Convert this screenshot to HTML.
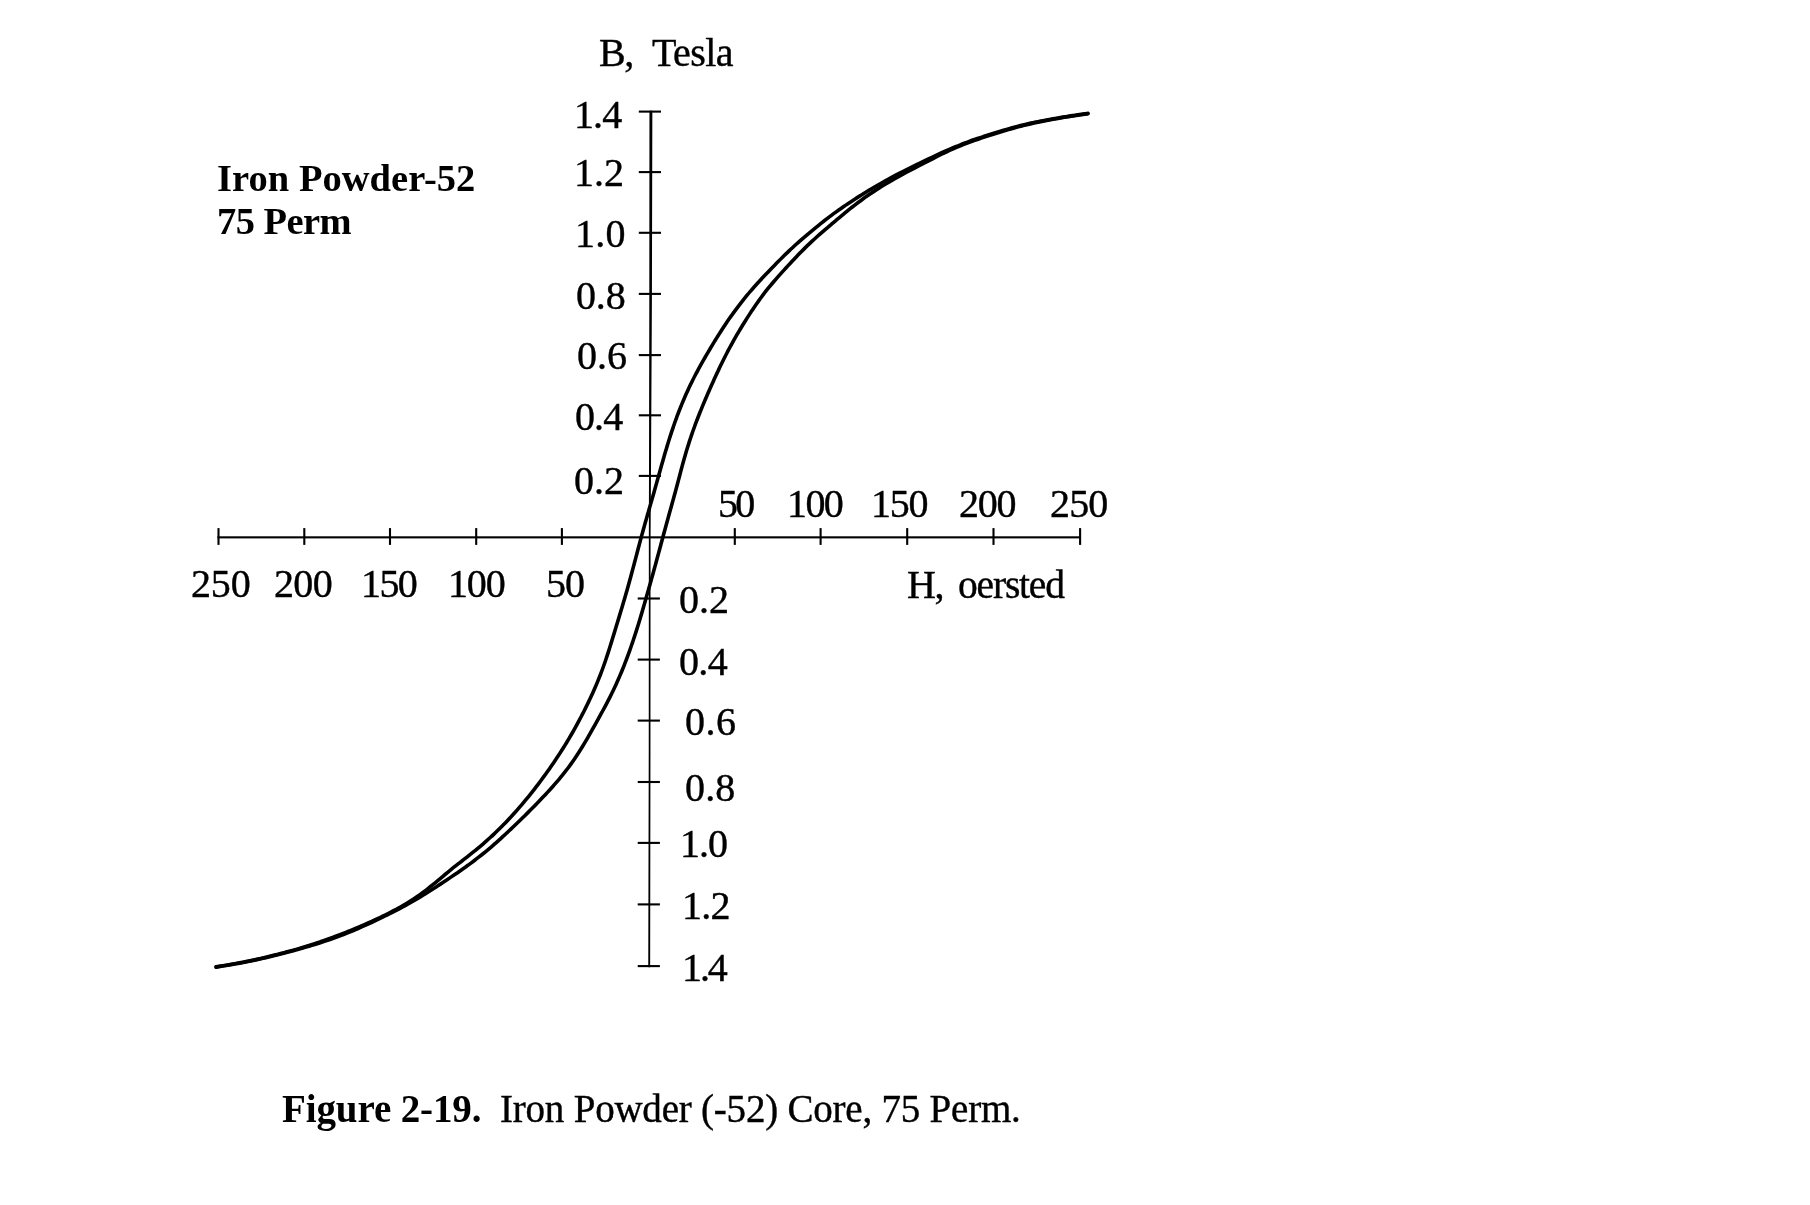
<!DOCTYPE html>
<html><head><meta charset="utf-8"><title>Figure 2-19</title>
<style>
html,body{margin:0;padding:0;background:#fff;width:1810px;height:1205px;overflow:hidden;}
svg{display:block;will-change:transform;}
text{font-family:"Liberation Serif",serif;fill:#000;}
</style></head><body>
<svg width="1810" height="1205" viewBox="0 0 1810 1205">
<rect width="1810" height="1205" fill="#fff"/>
<polygon points="649.45,110.80 649.30,300.00 649.00,470.00 648.85,540.00 648.75,750.00 648.25,967.20 650.15,967.20 650.45,750.00 650.55,540.00 651.00,470.00 651.90,300.00 652.35,110.80" fill="#000"/>
<rect class="ax" x="217.4" y="536.3" width="863.6" height="2.1" fill="#000"/>
<line x1="638.8" y1="111.6" x2="661.0" y2="111.6" stroke="#000" stroke-width="2.1"/>
<line x1="638.8" y1="172.1" x2="661.0" y2="172.1" stroke="#000" stroke-width="2.1"/>
<line x1="638.8" y1="232.8" x2="661.0" y2="232.8" stroke="#000" stroke-width="2.1"/>
<line x1="638.8" y1="293.9" x2="661.0" y2="293.9" stroke="#000" stroke-width="2.1"/>
<line x1="638.8" y1="355.1" x2="661.0" y2="355.1" stroke="#000" stroke-width="2.1"/>
<line x1="638.8" y1="415.3" x2="661.0" y2="415.3" stroke="#000" stroke-width="2.1"/>
<line x1="638.8" y1="475.9" x2="661.0" y2="475.9" stroke="#000" stroke-width="2.1"/>
<line x1="637.7" y1="598.5" x2="659.9" y2="598.5" stroke="#000" stroke-width="2.1"/>
<line x1="637.7" y1="659.6" x2="659.9" y2="659.6" stroke="#000" stroke-width="2.1"/>
<line x1="637.7" y1="720.6" x2="659.9" y2="720.6" stroke="#000" stroke-width="2.1"/>
<line x1="637.7" y1="782.0" x2="659.9" y2="782.0" stroke="#000" stroke-width="2.1"/>
<line x1="637.7" y1="842.9" x2="659.9" y2="842.9" stroke="#000" stroke-width="2.1"/>
<line x1="637.7" y1="904.4" x2="659.9" y2="904.4" stroke="#000" stroke-width="2.1"/>
<line x1="637.7" y1="966.1" x2="659.9" y2="966.1" stroke="#000" stroke-width="2.1"/>
<line x1="218.5" y1="528.1" x2="218.5" y2="544.9" stroke="#000" stroke-width="2.1"/>
<line x1="304.3" y1="528.1" x2="304.3" y2="544.9" stroke="#000" stroke-width="2.1"/>
<line x1="390.0" y1="528.1" x2="390.0" y2="544.9" stroke="#000" stroke-width="2.1"/>
<line x1="476.2" y1="528.1" x2="476.2" y2="544.9" stroke="#000" stroke-width="2.1"/>
<line x1="561.9" y1="528.1" x2="561.9" y2="544.9" stroke="#000" stroke-width="2.1"/>
<line x1="734.8" y1="528.1" x2="734.8" y2="544.9" stroke="#000" stroke-width="2.1"/>
<line x1="820.6" y1="528.1" x2="820.6" y2="544.9" stroke="#000" stroke-width="2.1"/>
<line x1="907.2" y1="528.1" x2="907.2" y2="544.9" stroke="#000" stroke-width="2.1"/>
<line x1="993.5" y1="528.1" x2="993.5" y2="544.9" stroke="#000" stroke-width="2.1"/>
<line x1="1080.1" y1="528.1" x2="1080.1" y2="544.9" stroke="#000" stroke-width="2.1"/>
<path d="M1087.95 113.43 C1087.11 113.55 1084.60 113.90 1082.93 114.14 C1081.25 114.38 1079.58 114.62 1077.91 114.86 C1076.24 115.10 1074.56 115.35 1072.89 115.60 C1071.22 115.85 1069.55 116.10 1067.88 116.36 C1066.21 116.62 1064.54 116.88 1062.87 117.15 C1061.20 117.41 1059.53 117.69 1057.86 117.97 C1056.20 118.25 1054.53 118.53 1052.87 118.82 C1051.20 119.11 1049.54 119.41 1047.87 119.72 C1046.21 120.02 1044.55 120.34 1042.89 120.66 C1041.23 120.98 1039.58 121.31 1037.92 121.65 C1036.27 121.98 1034.61 122.33 1032.96 122.69 C1031.31 123.05 1029.67 123.41 1028.02 123.79 C1026.37 124.17 1024.73 124.56 1023.09 124.96 C1021.45 125.36 1019.81 125.78 1018.18 126.20 C1016.54 126.62 1014.91 127.06 1013.28 127.50 C1011.65 127.95 1010.03 128.41 1008.40 128.87 C1006.78 129.33 1005.16 129.81 1003.54 130.29 C1001.92 130.77 1000.30 131.26 998.68 131.75 C997.07 132.24 995.45 132.74 993.84 133.25 C992.22 133.75 990.61 134.26 989.00 134.77 C987.39 135.28 985.78 135.80 984.18 136.33 C982.57 136.85 980.96 137.38 979.36 137.92 C977.76 138.45 976.16 139.00 974.57 139.55 C972.97 140.10 971.38 140.66 969.79 141.24 C968.20 141.81 966.62 142.39 965.04 142.98 C963.46 143.58 961.88 144.18 960.32 144.80 C958.75 145.41 957.18 146.04 955.62 146.68 C954.06 147.32 952.51 147.97 950.96 148.64 C949.41 149.30 947.86 149.98 946.32 150.66 C944.78 151.35 943.25 152.05 941.72 152.75 C940.19 153.46 938.66 154.17 937.13 154.89 C935.60 155.61 934.08 156.33 932.56 157.06 C931.03 157.78 929.51 158.51 927.99 159.24 C926.46 159.97 924.94 160.70 923.42 161.43 C921.90 162.17 920.38 162.90 918.86 163.63 C917.34 164.37 915.82 165.10 914.30 165.84 C912.78 166.58 911.26 167.33 909.75 168.07 C908.24 168.82 906.72 169.58 905.22 170.34 C903.71 171.09 902.20 171.86 900.70 172.63 C899.20 173.40 897.70 174.18 896.20 174.96 C894.71 175.75 893.21 176.54 891.73 177.34 C890.24 178.13 888.75 178.94 887.27 179.75 C885.79 180.56 884.31 181.38 882.84 182.20 C881.37 183.03 879.90 183.86 878.44 184.71 C876.97 185.55 875.51 186.40 874.06 187.26 C872.60 188.12 871.15 188.98 869.71 189.86 C868.26 190.73 866.82 191.61 865.38 192.49 C863.94 193.38 862.51 194.27 861.07 195.17 C859.64 196.07 858.22 196.98 856.79 197.89 C855.37 198.80 853.95 199.72 852.54 200.64 C851.13 201.57 849.72 202.50 848.31 203.44 C846.91 204.38 845.51 205.33 844.12 206.29 C842.73 207.24 841.34 208.21 839.96 209.18 C838.58 210.15 837.21 211.13 835.84 212.12 C834.47 213.12 833.11 214.11 831.76 215.12 C830.40 216.13 829.05 217.15 827.71 218.18 C826.37 219.20 825.04 220.24 823.71 221.28 C822.38 222.32 821.05 223.37 819.73 224.42 C818.41 225.47 817.10 226.53 815.79 227.60 C814.48 228.67 813.17 229.74 811.87 230.81 C810.57 231.89 809.27 232.97 807.98 234.06 C806.69 235.15 805.40 236.24 804.12 237.34 C802.84 238.45 801.56 239.55 800.29 240.67 C799.03 241.78 797.76 242.90 796.51 244.03 C795.25 245.16 794.01 246.30 792.77 247.45 C791.53 248.59 790.29 249.74 789.07 250.90 C787.84 252.06 786.62 253.23 785.41 254.40 C784.20 255.58 782.99 256.76 781.79 257.95 C780.59 259.13 779.40 260.33 778.22 261.53 C777.03 262.73 775.85 263.93 774.67 265.14 C773.50 266.35 772.33 267.57 771.16 268.78 C769.99 270.00 768.82 271.21 767.65 272.44 C766.49 273.66 765.33 274.88 764.17 276.11 C763.01 277.33 761.86 278.56 760.71 279.80 C759.56 281.03 758.42 282.27 757.28 283.52 C756.15 284.76 755.02 286.01 753.90 287.27 C752.78 288.53 751.67 289.80 750.57 291.07 C749.47 292.35 748.39 293.63 747.31 294.93 C746.24 296.22 745.17 297.53 744.12 298.84 C743.06 300.15 742.02 301.48 740.99 302.80 C739.96 304.13 738.94 305.47 737.92 306.82 C736.91 308.16 735.91 309.52 734.91 310.87 C733.91 312.23 732.92 313.59 731.94 314.96 C730.96 316.33 729.99 317.71 729.03 319.09 C728.07 320.48 727.11 321.87 726.17 323.27 C725.22 324.66 724.29 326.07 723.36 327.47 C722.43 328.88 721.52 330.30 720.61 331.72 C719.70 333.14 718.79 334.57 717.90 336.00 C717.00 337.43 716.11 338.87 715.23 340.31 C714.34 341.75 713.47 343.19 712.59 344.64 C711.72 346.08 710.84 347.53 709.98 348.99 C709.11 350.44 708.25 351.89 707.40 353.35 C706.54 354.81 705.69 356.27 704.85 357.74 C704.00 359.20 703.16 360.67 702.33 362.14 C701.50 363.61 700.68 365.09 699.86 366.57 C699.05 368.05 698.24 369.54 697.45 371.03 C696.65 372.52 695.86 374.01 695.08 375.51 C694.30 377.01 693.54 378.52 692.78 380.03 C692.02 381.54 691.28 383.06 690.54 384.58 C689.80 386.10 689.08 387.62 688.37 389.16 C687.65 390.69 686.95 392.22 686.26 393.77 C685.57 395.31 684.89 396.85 684.22 398.41 C683.55 399.96 682.89 401.51 682.25 403.07 C681.60 404.63 680.97 406.20 680.34 407.77 C679.72 409.34 679.10 410.91 678.50 412.49 C677.90 414.07 677.30 415.65 676.72 417.24 C676.14 418.83 675.56 420.42 675.00 422.01 C674.43 423.60 673.88 425.20 673.33 426.80 C672.78 428.40 672.25 430.00 671.72 431.60 C671.19 433.21 670.66 434.82 670.15 436.43 C669.63 438.04 669.13 439.65 668.63 441.27 C668.12 442.88 667.63 444.50 667.14 446.12 C666.65 447.73 666.17 449.36 665.69 450.98 C665.21 452.60 664.74 454.22 664.27 455.85 C663.80 457.47 663.33 459.10 662.87 460.72 C662.41 462.35 661.95 463.98 661.49 465.60 C661.03 467.23 660.57 468.86 660.11 470.49 C659.66 472.11 659.20 473.74 658.75 475.37 C658.29 477.00 657.84 478.63 657.38 480.25 C656.92 481.88 656.47 483.51 656.01 485.13 C655.55 486.76 655.09 488.39 654.63 490.01 C654.17 491.64 653.71 493.26 653.24 494.89 C652.78 496.51 652.32 498.14 651.85 499.76 C651.39 501.38 650.92 503.01 650.46 504.63 C649.99 506.26 649.52 507.88 649.06 509.50 C648.59 511.12 648.12 512.75 647.66 514.37 C647.19 515.99 646.72 517.61 646.26 519.24 C645.80 520.86 645.33 522.48 644.87 524.11 C644.41 525.73 643.95 527.35 643.50 528.98 C643.05 530.61 642.60 532.23 642.15 533.86 C641.70 535.49 641.26 537.12 640.82 538.75 C640.39 540.38 639.95 542.01 639.52 543.64 C639.08 545.27 638.65 546.91 638.22 548.54 C637.79 550.17 637.36 551.81 636.93 553.44 C636.50 555.07 636.07 556.71 635.64 558.34 C635.21 559.98 634.78 561.61 634.35 563.24 C633.92 564.88 633.48 566.51 633.05 568.14 C632.62 569.78 632.18 571.41 631.74 573.04 C631.30 574.67 630.86 576.31 630.42 577.94 C629.98 579.57 629.53 581.20 629.08 582.82 C628.63 584.45 628.18 586.08 627.72 587.71 C627.26 589.33 626.80 590.96 626.34 592.58 C625.87 594.21 625.40 595.83 624.93 597.45 C624.45 599.08 623.97 600.70 623.50 602.32 C623.02 603.94 622.53 605.56 622.05 607.18 C621.56 608.80 621.07 610.41 620.59 612.03 C620.10 613.65 619.61 615.27 619.12 616.89 C618.63 618.50 618.14 620.12 617.65 621.74 C617.16 623.36 616.67 624.98 616.18 626.59 C615.68 628.21 615.19 629.83 614.70 631.45 C614.21 633.07 613.72 634.68 613.23 636.30 C612.73 637.92 612.24 639.54 611.74 641.15 C611.24 642.77 610.74 644.38 610.24 645.99 C609.73 647.61 609.23 649.22 608.71 650.83 C608.20 652.44 607.68 654.05 607.15 655.65 C606.62 657.26 606.09 658.86 605.54 660.46 C605.00 662.06 604.45 663.65 603.88 665.24 C603.32 666.83 602.74 668.42 602.16 670.01 C601.57 671.59 600.98 673.17 600.37 674.74 C599.76 676.32 599.14 677.89 598.51 679.45 C597.88 681.02 597.23 682.58 596.58 684.14 C595.92 685.69 595.26 687.24 594.58 688.79 C593.90 690.34 593.21 691.88 592.52 693.42 C591.82 694.96 591.11 696.49 590.40 698.03 C589.68 699.56 588.96 701.08 588.22 702.61 C587.49 704.13 586.75 705.65 586.00 707.16 C585.25 708.68 584.49 710.19 583.73 711.70 C582.96 713.21 582.19 714.71 581.41 716.21 C580.63 717.71 579.84 719.20 579.04 720.70 C578.25 722.19 577.44 723.67 576.63 725.16 C575.82 726.64 575.00 728.12 574.17 729.59 C573.35 731.06 572.51 732.53 571.67 734.00 C570.82 735.46 569.97 736.92 569.11 738.38 C568.26 739.83 567.39 741.28 566.51 742.73 C565.64 744.17 564.75 745.61 563.86 747.04 C562.97 748.48 562.07 749.91 561.16 751.33 C560.25 752.75 559.33 754.17 558.40 755.58 C557.48 757.00 556.54 758.40 555.60 759.81 C554.66 761.21 553.71 762.61 552.75 764.00 C551.80 765.40 550.83 766.79 549.87 768.17 C548.90 769.56 547.92 770.94 546.94 772.31 C545.96 773.69 544.97 775.06 543.97 776.43 C542.98 777.79 541.98 779.15 540.97 780.51 C539.96 781.87 538.94 783.22 537.92 784.57 C536.90 785.91 535.87 787.26 534.84 788.59 C533.80 789.93 532.76 791.26 531.71 792.58 C530.65 793.91 529.60 795.23 528.53 796.54 C527.46 797.85 526.39 799.16 525.31 800.46 C524.23 801.76 523.14 803.05 522.05 804.34 C520.95 805.63 519.85 806.91 518.74 808.18 C517.63 809.46 516.51 810.73 515.38 811.99 C514.26 813.25 513.13 814.51 511.98 815.75 C510.84 817.00 509.69 818.24 508.54 819.47 C507.38 820.70 506.21 821.92 505.04 823.14 C503.86 824.35 502.68 825.56 501.49 826.76 C500.30 827.96 499.10 829.15 497.89 830.33 C496.68 831.51 495.46 832.68 494.23 833.84 C493.00 835.00 491.77 836.15 490.52 837.29 C489.27 838.43 488.02 839.56 486.76 840.68 C485.49 841.80 484.22 842.92 482.94 844.02 C481.66 845.12 480.37 846.21 479.07 847.30 C477.78 848.38 476.47 849.45 475.16 850.52 C473.85 851.59 472.54 852.64 471.21 853.70 C469.89 854.75 468.57 855.79 467.24 856.84 C465.91 857.88 464.58 858.92 463.24 859.95 C461.91 860.99 460.58 862.03 459.25 863.06 C457.92 864.10 456.59 865.14 455.27 866.19 C453.94 867.23 452.63 868.28 451.31 869.34 C450.00 870.40 448.70 871.46 447.40 872.53 C446.10 873.60 444.80 874.68 443.51 875.76 C442.22 876.84 440.94 877.93 439.66 879.01 C438.37 880.09 437.09 881.18 435.80 882.26 C434.50 883.33 433.21 884.41 431.91 885.47 C430.61 886.53 429.30 887.58 427.98 888.62 C426.66 889.65 425.33 890.68 423.99 891.68 C422.64 892.69 421.29 893.68 419.92 894.65 C418.55 895.63 417.17 896.58 415.78 897.52 C414.39 898.46 412.98 899.39 411.57 900.29 C410.15 901.20 408.72 902.09 407.29 902.97 C405.85 903.84 404.40 904.70 402.94 905.54 C401.48 906.39 400.01 907.22 398.54 908.04 C397.06 908.85 395.58 909.66 394.09 910.45 C392.60 911.24 391.10 912.02 389.59 912.79 C388.09 913.56 386.58 914.32 385.06 915.07 C383.55 915.82 382.02 916.56 380.50 917.29 C378.97 918.02 377.44 918.74 375.91 919.46 C374.38 920.17 372.84 920.88 371.30 921.58 C369.76 922.28 368.21 922.97 366.66 923.65 C365.12 924.33 363.56 925.01 362.01 925.68 C360.45 926.35 358.90 927.01 357.34 927.66 C355.78 928.32 354.21 928.96 352.65 929.60 C351.08 930.25 349.52 930.88 347.95 931.51 C346.38 932.14 344.81 932.76 343.23 933.38 C341.66 934.00 340.08 934.61 338.50 935.22 C336.93 935.82 335.35 936.42 333.76 937.01 C332.18 937.61 330.59 938.19 329.01 938.77 C327.42 939.34 325.83 939.91 324.23 940.47 C322.64 941.03 321.04 941.58 319.44 942.12 C317.84 942.66 316.24 943.19 314.63 943.72 C313.03 944.24 311.42 944.75 309.80 945.26 C308.19 945.76 306.58 946.26 304.96 946.75 C303.34 947.24 301.72 947.72 300.10 948.20 C298.48 948.68 296.86 949.15 295.23 949.61 C293.61 950.07 291.98 950.53 290.35 950.98 C288.72 951.43 287.09 951.87 285.45 952.31 C283.82 952.75 282.19 953.18 280.55 953.60 C278.91 954.03 277.28 954.45 275.64 954.86 C274.00 955.27 272.36 955.68 270.71 956.07 C269.07 956.47 267.43 956.87 265.78 957.25 C264.14 957.64 262.49 958.02 260.84 958.40 C259.19 958.77 257.55 959.14 255.90 959.50 C254.25 959.86 252.59 960.21 250.94 960.56 C249.29 960.90 247.63 961.24 245.98 961.57 C244.32 961.90 242.67 962.23 241.01 962.54 C239.35 962.86 237.70 963.17 236.04 963.47 C234.38 963.77 232.72 964.06 231.06 964.35 C229.40 964.64 227.74 964.92 226.07 965.19 C224.41 965.47 222.75 965.73 221.09 966.00 C219.42 966.26 216.93 966.66 216.10 966.79" fill="none" stroke="#000" stroke-width="3.6" stroke-linecap="round" stroke-linejoin="round"/>
<path d="M216.10 967.10 C216.93 966.97 219.42 966.58 221.08 966.32 C222.75 966.06 224.41 965.79 226.07 965.52 C227.73 965.25 229.39 964.98 231.05 964.69 C232.71 964.41 234.37 964.12 236.03 963.82 C237.69 963.52 239.34 963.22 241.00 962.90 C242.66 962.59 244.31 962.27 245.97 961.94 C247.62 961.61 249.28 961.28 250.93 960.93 C252.58 960.59 254.23 960.24 255.88 959.88 C257.53 959.53 259.18 959.16 260.83 958.79 C262.48 958.42 264.12 958.04 265.77 957.66 C267.42 957.27 269.06 956.88 270.70 956.49 C272.35 956.09 273.99 955.69 275.63 955.29 C277.27 954.88 278.91 954.47 280.55 954.05 C282.19 953.63 283.82 953.20 285.46 952.77 C287.09 952.34 288.73 951.91 290.36 951.47 C291.99 951.03 293.62 950.58 295.25 950.13 C296.88 949.67 298.51 949.22 300.14 948.75 C301.76 948.29 303.39 947.82 305.01 947.35 C306.63 946.88 308.25 946.40 309.87 945.91 C311.49 945.43 313.11 944.93 314.72 944.43 C316.34 943.94 317.95 943.43 319.56 942.92 C321.17 942.40 322.78 941.88 324.38 941.35 C325.99 940.82 327.59 940.28 329.18 939.74 C330.78 939.19 332.38 938.63 333.96 938.06 C335.55 937.49 337.14 936.92 338.72 936.33 C340.30 935.74 341.88 935.14 343.45 934.52 C345.03 933.91 346.60 933.29 348.16 932.66 C349.73 932.02 351.29 931.38 352.84 930.72 C354.40 930.07 355.95 929.41 357.50 928.74 C359.05 928.06 360.60 927.39 362.15 926.70 C363.69 926.01 365.23 925.32 366.77 924.62 C368.31 923.92 369.85 923.22 371.38 922.51 C372.91 921.80 374.44 921.08 375.97 920.36 C377.50 919.64 379.03 918.91 380.55 918.18 C382.07 917.44 383.60 916.71 385.11 915.96 C386.63 915.22 388.15 914.47 389.66 913.71 C391.17 912.95 392.68 912.19 394.18 911.41 C395.68 910.64 397.18 909.87 398.68 909.08 C400.17 908.29 401.66 907.50 403.15 906.69 C404.64 905.89 406.12 905.08 407.60 904.26 C409.07 903.44 410.55 902.61 412.01 901.77 C413.48 900.94 414.94 900.09 416.40 899.24 C417.85 898.38 419.30 897.52 420.75 896.64 C422.20 895.77 423.64 894.89 425.07 894.00 C426.51 893.11 427.94 892.21 429.37 891.31 C430.79 890.40 432.22 889.49 433.64 888.57 C435.05 887.66 436.47 886.73 437.88 885.81 C439.30 884.88 440.71 883.95 442.12 883.01 C443.52 882.08 444.93 881.14 446.34 880.20 C447.74 879.26 449.14 878.32 450.55 877.37 C451.95 876.42 453.35 875.48 454.74 874.52 C456.14 873.57 457.54 872.62 458.93 871.65 C460.31 870.69 461.70 869.73 463.08 868.75 C464.46 867.78 465.84 866.80 467.21 865.81 C468.58 864.82 469.95 863.83 471.30 862.82 C472.66 861.82 474.01 860.80 475.35 859.78 C476.70 858.76 478.03 857.72 479.36 856.68 C480.69 855.64 482.01 854.58 483.32 853.52 C484.63 852.46 485.94 851.38 487.24 850.30 C488.53 849.22 489.82 848.13 491.11 847.03 C492.39 845.93 493.67 844.83 494.94 843.71 C496.21 842.60 497.47 841.48 498.73 840.35 C499.99 839.22 501.24 838.09 502.49 836.95 C503.74 835.81 504.98 834.66 506.22 833.51 C507.46 832.36 508.69 831.20 509.92 830.04 C511.15 828.88 512.38 827.72 513.60 826.55 C514.82 825.38 516.04 824.21 517.26 823.03 C518.47 821.85 519.69 820.68 520.90 819.49 C522.11 818.31 523.31 817.13 524.52 815.94 C525.72 814.75 526.92 813.56 528.12 812.37 C529.32 811.17 530.51 809.97 531.71 808.77 C532.90 807.57 534.08 806.37 535.26 805.16 C536.45 803.95 537.63 802.74 538.80 801.52 C539.97 800.30 541.14 799.08 542.30 797.86 C543.47 796.63 544.63 795.40 545.78 794.17 C546.93 792.93 548.07 791.69 549.21 790.44 C550.35 789.20 551.48 787.94 552.60 786.68 C553.72 785.42 554.83 784.16 555.93 782.88 C557.04 781.61 558.13 780.33 559.22 779.04 C560.30 777.75 561.37 776.46 562.43 775.15 C563.49 773.85 564.54 772.53 565.58 771.21 C566.61 769.88 567.63 768.55 568.63 767.20 C569.63 765.85 570.62 764.49 571.60 763.12 C572.57 761.75 573.53 760.37 574.48 758.98 C575.43 757.60 576.36 756.20 577.28 754.79 C578.20 753.38 579.11 751.96 580.01 750.54 C580.90 749.11 581.79 747.68 582.66 746.24 C583.54 744.80 584.40 743.35 585.26 741.90 C586.12 740.45 586.97 738.99 587.81 737.53 C588.66 736.07 589.49 734.60 590.33 733.13 C591.16 731.67 591.99 730.19 592.82 728.72 C593.65 727.25 594.47 725.78 595.29 724.30 C596.11 722.83 596.93 721.35 597.75 719.87 C598.57 718.40 599.38 716.92 600.20 715.44 C601.01 713.96 601.82 712.48 602.63 711.00 C603.43 709.52 604.24 708.04 605.03 706.55 C605.83 705.07 606.62 703.58 607.40 702.08 C608.17 700.59 608.95 699.09 609.71 697.59 C610.47 696.09 611.22 694.58 611.96 693.06 C612.70 691.55 613.43 690.03 614.15 688.51 C614.87 686.98 615.58 685.45 616.28 683.92 C616.98 682.39 617.66 680.85 618.34 679.30 C619.02 677.76 619.69 676.21 620.34 674.66 C621.00 673.10 621.65 671.55 622.28 669.98 C622.92 668.42 623.55 666.85 624.16 665.28 C624.78 663.71 625.39 662.14 625.99 660.56 C626.59 658.98 627.18 657.40 627.77 655.81 C628.35 654.23 628.93 652.64 629.50 651.05 C630.07 649.46 630.63 647.87 631.19 646.27 C631.74 644.68 632.29 643.08 632.83 641.48 C633.38 639.88 633.91 638.27 634.44 636.67 C634.97 635.06 635.49 633.45 636.00 631.84 C636.52 630.24 637.03 628.62 637.53 627.01 C638.04 625.40 638.53 623.78 639.03 622.17 C639.52 620.55 640.01 618.93 640.50 617.31 C640.98 615.69 641.46 614.07 641.94 612.45 C642.41 610.83 642.89 609.21 643.36 607.59 C643.83 605.96 644.29 604.34 644.76 602.72 C645.23 601.09 645.69 599.47 646.15 597.84 C646.62 596.22 647.08 594.59 647.54 592.97 C648.01 591.34 648.47 589.72 648.93 588.09 C649.39 586.46 649.85 584.84 650.31 583.21 C650.76 581.58 651.22 579.96 651.68 578.33 C652.13 576.70 652.59 575.07 653.04 573.45 C653.49 571.82 653.94 570.19 654.39 568.56 C654.84 566.93 655.28 565.30 655.73 563.67 C656.17 562.04 656.62 560.41 657.06 558.78 C657.50 557.15 657.94 555.51 658.38 553.88 C658.82 552.25 659.26 550.62 659.70 548.99 C660.14 547.35 660.57 545.72 661.01 544.09 C661.45 542.46 661.89 540.83 662.33 539.20 C662.76 537.56 663.20 535.93 663.64 534.30 C664.09 532.67 664.53 531.04 664.97 529.41 C665.42 527.79 665.86 526.16 666.31 524.53 C666.76 522.90 667.21 521.27 667.66 519.65 C668.10 518.02 668.55 516.39 669.00 514.77 C669.45 513.14 669.90 511.52 670.35 509.89 C670.80 508.26 671.26 506.64 671.71 505.01 C672.16 503.39 672.61 501.76 673.06 500.14 C673.51 498.51 673.96 496.89 674.40 495.26 C674.85 493.64 675.30 492.01 675.74 490.38 C676.17 488.75 676.61 487.12 677.04 485.49 C677.48 483.86 677.90 482.23 678.33 480.60 C678.76 478.97 679.19 477.34 679.62 475.70 C680.04 474.07 680.47 472.44 680.90 470.81 C681.33 469.17 681.77 467.54 682.21 465.91 C682.65 464.28 683.09 462.65 683.55 461.03 C684.00 459.40 684.46 457.78 684.92 456.15 C685.39 454.53 685.86 452.91 686.35 451.29 C686.83 449.67 687.33 448.06 687.83 446.45 C688.33 444.83 688.84 443.22 689.36 441.62 C689.89 440.01 690.42 438.41 690.96 436.81 C691.50 435.21 692.05 433.61 692.61 432.02 C693.17 430.42 693.74 428.83 694.31 427.24 C694.89 425.66 695.48 424.07 696.07 422.49 C696.67 420.91 697.27 419.33 697.88 417.75 C698.49 416.18 699.11 414.60 699.73 413.03 C700.36 411.46 700.99 409.89 701.63 408.33 C702.26 406.76 702.91 405.20 703.56 403.64 C704.21 402.08 704.87 400.52 705.53 398.96 C706.19 397.41 706.86 395.85 707.53 394.30 C708.20 392.75 708.88 391.20 709.56 389.65 C710.24 388.10 710.93 386.56 711.62 385.01 C712.31 383.47 713.00 381.93 713.71 380.39 C714.41 378.85 715.11 377.31 715.82 375.78 C716.53 374.24 717.24 372.71 717.96 371.18 C718.69 369.65 719.41 368.13 720.14 366.60 C720.87 365.08 721.61 363.56 722.36 362.04 C723.10 360.52 723.85 359.01 724.61 357.50 C725.37 355.99 726.13 354.48 726.91 352.98 C727.68 351.48 728.47 349.98 729.26 348.49 C730.05 347.00 730.85 345.51 731.67 344.03 C732.48 342.55 733.30 341.07 734.13 339.60 C734.96 338.13 735.80 336.66 736.65 335.20 C737.50 333.74 738.36 332.28 739.22 330.83 C740.09 329.38 740.96 327.94 741.85 326.49 C742.73 325.05 743.62 323.62 744.51 322.18 C745.41 320.75 746.31 319.32 747.22 317.89 C748.12 316.47 749.04 315.05 749.96 313.63 C750.88 312.22 751.81 310.81 752.75 309.41 C753.69 308.00 754.63 306.61 755.59 305.22 C756.55 303.83 757.51 302.45 758.49 301.08 C759.47 299.70 760.46 298.34 761.46 296.99 C762.47 295.63 763.48 294.29 764.51 292.96 C765.54 291.63 766.59 290.30 767.64 288.99 C768.70 287.68 769.77 286.38 770.84 285.08 C771.92 283.79 773.01 282.51 774.11 281.23 C775.21 279.95 776.32 278.68 777.44 277.42 C778.55 276.16 779.67 274.90 780.80 273.64 C781.93 272.39 783.06 271.14 784.19 269.89 C785.33 268.64 786.47 267.40 787.61 266.15 C788.75 264.91 789.89 263.67 791.04 262.44 C792.18 261.20 793.34 259.97 794.49 258.74 C795.65 257.52 796.82 256.29 797.99 255.08 C799.16 253.87 800.34 252.66 801.52 251.46 C802.71 250.26 803.90 249.07 805.10 247.89 C806.30 246.71 807.51 245.54 808.73 244.37 C809.94 243.21 811.17 242.05 812.40 240.91 C813.63 239.76 814.87 238.62 816.12 237.49 C817.37 236.37 818.62 235.25 819.88 234.13 C821.14 233.02 822.41 231.92 823.68 230.82 C824.95 229.72 826.23 228.63 827.51 227.53 C828.79 226.44 830.07 225.35 831.36 224.27 C832.64 223.18 833.92 222.09 835.21 221.01 C836.50 219.93 837.79 218.84 839.08 217.76 C840.37 216.69 841.67 215.61 842.97 214.54 C844.27 213.46 845.57 212.39 846.88 211.33 C848.19 210.27 849.50 209.22 850.82 208.17 C852.14 207.12 853.47 206.08 854.80 205.05 C856.14 204.02 857.48 203.00 858.83 201.99 C860.18 200.98 861.53 199.98 862.90 198.99 C864.26 198.00 865.64 197.02 867.02 196.05 C868.40 195.08 869.78 194.12 871.18 193.17 C872.58 192.23 873.98 191.29 875.39 190.37 C876.81 189.45 878.23 188.54 879.66 187.64 C881.08 186.74 882.52 185.86 883.96 184.98 C885.41 184.11 886.86 183.25 888.31 182.39 C889.77 181.54 891.23 180.69 892.70 179.85 C894.16 179.02 895.64 178.19 897.11 177.37 C898.59 176.55 900.07 175.73 901.55 174.92 C903.04 174.12 904.53 173.31 906.02 172.52 C907.51 171.72 909.00 170.93 910.50 170.14 C911.99 169.36 913.49 168.58 914.99 167.80 C916.49 167.02 917.99 166.24 919.49 165.47 C920.99 164.69 922.49 163.92 924.00 163.14 C925.50 162.37 927.00 161.60 928.51 160.83 C930.01 160.06 931.51 159.29 933.02 158.53 C934.52 157.77 936.03 157.00 937.54 156.25 C939.05 155.50 940.56 154.75 942.07 154.01 C943.59 153.27 945.11 152.54 946.64 151.83 C948.16 151.11 949.69 150.40 951.23 149.71 C952.76 149.02 954.31 148.35 955.86 147.68 C957.40 147.02 958.96 146.37 960.52 145.73 C962.08 145.10 963.65 144.47 965.22 143.86 C966.79 143.25 968.37 142.66 969.95 142.07 C971.53 141.49 973.12 140.91 974.71 140.35 C976.30 139.79 977.90 139.23 979.49 138.69 C981.09 138.14 982.69 137.61 984.30 137.07 C985.90 136.54 987.51 136.02 989.12 135.50 C990.72 134.98 992.33 134.47 993.95 133.96 C995.56 133.45 997.17 132.95 998.78 132.45 C1000.40 131.95 1002.02 131.46 1003.63 130.97 C1005.25 130.49 1006.87 130.01 1008.49 129.54 C1010.12 129.07 1011.74 128.61 1013.37 128.16 C1015.00 127.71 1016.63 127.27 1018.26 126.84 C1019.89 126.41 1021.53 125.99 1023.17 125.58 C1024.81 125.18 1026.45 124.78 1028.09 124.40 C1029.74 124.01 1031.38 123.64 1033.03 123.28 C1034.68 122.91 1036.33 122.56 1037.99 122.22 C1039.64 121.87 1041.29 121.54 1042.95 121.21 C1044.61 120.88 1046.27 120.56 1047.93 120.24 C1049.59 119.93 1051.25 119.62 1052.91 119.32 C1054.57 119.01 1056.24 118.72 1057.90 118.43 C1059.57 118.14 1061.23 117.85 1062.90 117.57 C1064.57 117.29 1066.24 117.02 1067.90 116.75 C1069.57 116.48 1071.24 116.21 1072.91 115.95 C1074.58 115.69 1076.25 115.43 1077.92 115.17 C1079.59 114.92 1081.26 114.66 1082.93 114.41 C1084.61 114.16 1087.11 113.78 1087.95 113.65" fill="none" stroke="#000" stroke-width="3.6" stroke-linecap="round" stroke-linejoin="round"/>
<text x="599.00" y="65.90" font-size="40.0" stroke="#000" stroke-width="0.4" textLength="35.29" lengthAdjust="spacing">B,</text>
<text x="652.00" y="66.00" font-size="40.0" stroke="#000" stroke-width="0.4" textLength="81.63" lengthAdjust="spacing">Tesla</text>
<text x="574.00" y="128.00" font-size="40.0" stroke="#000" stroke-width="0.4" textLength="48.20" lengthAdjust="spacing">1.4</text>
<text x="574.00" y="186.00" font-size="40.0" stroke="#000" stroke-width="0.4" textLength="50.00" lengthAdjust="spacing">1.2</text>
<text x="575.00" y="247.00" font-size="40.0" stroke="#000" stroke-width="0.4" textLength="50.40" lengthAdjust="spacing">1.0</text>
<text x="576.00" y="309.00" font-size="40.0" stroke="#000" stroke-width="0.4" textLength="49.70" lengthAdjust="spacing">0.8</text>
<text x="577.00" y="369.00" font-size="40.0" stroke="#000" stroke-width="0.4">0.6</text>
<text x="575.00" y="430.00" font-size="40.0" stroke="#000" stroke-width="0.4" textLength="48.20" lengthAdjust="spacing">0.4</text>
<text x="574.00" y="494.00" font-size="40.0" stroke="#000" stroke-width="0.4" textLength="50.00" lengthAdjust="spacing">0.2</text>
<text x="718.00" y="517.00" font-size="40.0" stroke="#000" stroke-width="0.4" textLength="37.20" lengthAdjust="spacing">50</text>
<text x="787.00" y="517.00" font-size="40.0" stroke="#000" stroke-width="0.4" textLength="56.80" lengthAdjust="spacing">100</text>
<text x="871.00" y="517.00" font-size="40.0" stroke="#000" stroke-width="0.4" textLength="57.60" lengthAdjust="spacing">150</text>
<text x="959.00" y="517.00" font-size="40.0" stroke="#000" stroke-width="0.4" textLength="57.40" lengthAdjust="spacing">200</text>
<text x="1050.00" y="517.00" font-size="40.0" stroke="#000" stroke-width="0.4" textLength="58.30" lengthAdjust="spacing">250</text>
<text x="191.00" y="597.00" font-size="40.0" stroke="#000" stroke-width="0.4" textLength="59.70" lengthAdjust="spacing">250</text>
<text x="274.00" y="597.00" font-size="40.0" stroke="#000" stroke-width="0.4" textLength="58.70" lengthAdjust="spacing">200</text>
<text x="361.00" y="597.00" font-size="40.0" stroke="#000" stroke-width="0.4" textLength="56.80" lengthAdjust="spacing">150</text>
<text x="448.00" y="597.00" font-size="40.0" stroke="#000" stroke-width="0.4" textLength="57.70" lengthAdjust="spacing">100</text>
<text x="546.00" y="597.00" font-size="40.0" stroke="#000" stroke-width="0.4" textLength="39.00" lengthAdjust="spacing">50</text>
<text x="907.00" y="598.10" font-size="40.0" stroke="#000" stroke-width="0.4" textLength="37.49" lengthAdjust="spacing">H,</text>
<text x="958.00" y="598.00" font-size="39.5" stroke="#000" stroke-width="0.4" textLength="106.98" lengthAdjust="spacing">oersted</text>
<text x="679.00" y="613.00" font-size="40.0" stroke="#000" stroke-width="0.4">0.2</text>
<text x="679.00" y="675.00" font-size="40.0" stroke="#000" stroke-width="0.4" textLength="48.70" lengthAdjust="spacing">0.4</text>
<text x="685.00" y="735.00" font-size="40.0" stroke="#000" stroke-width="0.4" textLength="51.10" lengthAdjust="spacing">0.6</text>
<text x="685.00" y="801.00" font-size="40.0" stroke="#000" stroke-width="0.4" textLength="50.30" lengthAdjust="spacing">0.8</text>
<text x="680.00" y="857.00" font-size="40.0" stroke="#000" stroke-width="0.4" textLength="48.10" lengthAdjust="spacing">1.0</text>
<text x="682.00" y="919.00" font-size="40.0" stroke="#000" stroke-width="0.4" textLength="48.40" lengthAdjust="spacing">1.2</text>
<text x="682.00" y="981.00" font-size="40.0" stroke="#000" stroke-width="0.4" textLength="45.80" lengthAdjust="spacing">1.4</text>
<text x="217.00" y="191.00" font-size="38.5" font-weight="bold" textLength="258.32" lengthAdjust="spacing">Iron Powder-52</text>
<text x="217.00" y="234.00" font-size="38.5" font-weight="bold" textLength="134.69" lengthAdjust="spacing">75 Perm</text>
<text x="282.00" y="1121.50" font-size="39.0" font-weight="bold" textLength="199.47" lengthAdjust="spacing">Figure 2-19.</text>
<text x="500.00" y="1121.80" font-size="39.0" stroke="#000" stroke-width="0.4" textLength="520.78" lengthAdjust="spacing">Iron Powder (-52) Core, 75 Perm.</text>
</svg>
</body></html>
